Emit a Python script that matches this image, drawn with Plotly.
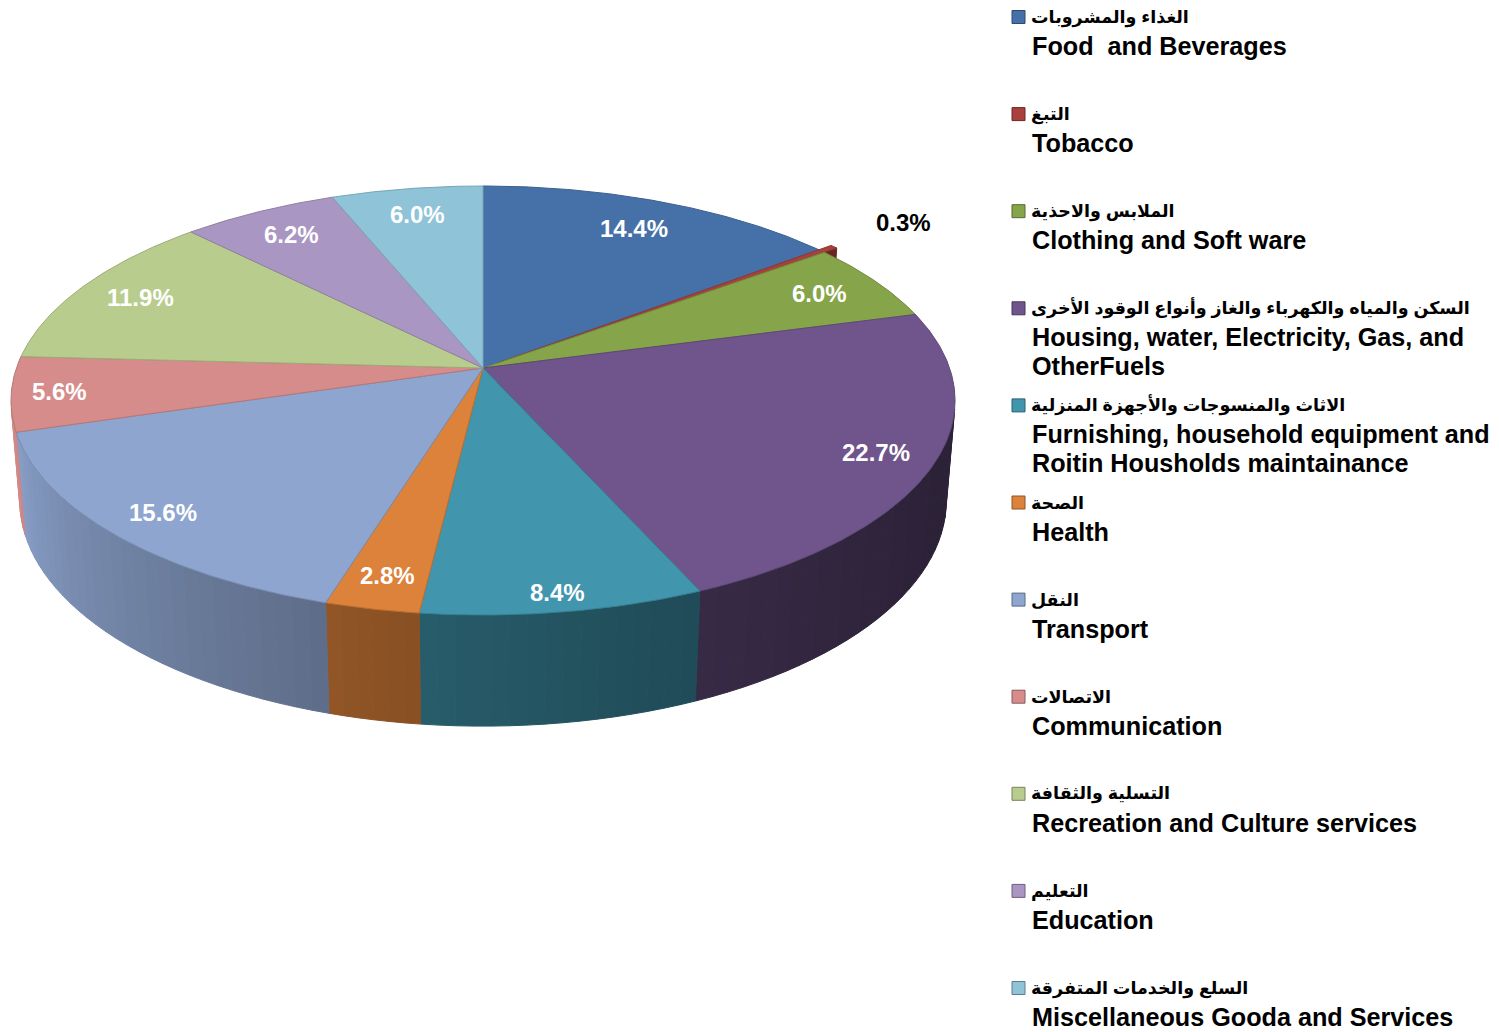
import numpy as np
import plotly.graph_objects as go

# ---------------- data ----------------
categories_ar = [
    "الغذاء والمشروبات",
    "التبغ",
    "الملابس والاحذية",
    "السكن والمياه والكهرباء والغاز وأنواع الوقود الأخرى",
    "الاثاث والمنسوجات والأجهزة المنزلية",
    "الصحة",
    "النقل",
    "الاتصالات",
    "التسلية والثقافة",
    "التعليم",
    "السلع والخدمات المتفرقة",
]
categories_en = [
    "Food  and Beverages",
    "Tobacco",
    "Clothing and Soft ware",
    "Housing, water, Electricity, Gas, and<br>OtherFuels",
    "Furnishing, household equipment and<br>Roitin Housholds maintainance",
    "Health",
    "Transport",
    "Communication",
    "Recreation and Culture services",
    "Education",
    "Miscellaneous Gooda and Services",
]
values = [14.4, 0.3, 6.0, 22.7, 8.4, 2.8, 15.6, 5.6, 11.9, 6.2, 6.0]

# ---------------- style ----------------
colors = ["#4671A8", "#A8403D", "#86A44A", "#6F558C", "#4196AE", "#DC823A",
          "#8EA5CF", "#D58C8A", "#B8CC8E", "#A996C2", "#8FC3D7"]
explode = [0, 0.04, 0, 0, 0, 0, 0, 0, 0, 0, 0]
label_r = [0.82, 1.27, 0.85, 0.88, 0.93, 0.88, 0.88, 0.90, 0.85, 0.84, 0.84]

# projection parameters (pixel space)
CX, CY = 483.0, 368.0
S, C = 0.4492, 0.8934          # sin / cos of the view elevation
L, F = 5.896, 2751.0           # camera distance and focal length (radius = 1)
H = 0.242                      # pie thickness
PAGE_OFF = 8                   # default page body margin


def hex2rgb(h):
    h = h.lstrip("#")
    return np.array([int(h[i:i + 2], 16) for i in (0, 2, 4)], dtype=float)


def shade(hexc, f):
    r = np.clip(hex2rgb(hexc) * f, 0, 255).astype(int)
    return "rgb(%d,%d,%d)" % tuple(r)


def proj(r, th_deg, y=0.0, off=(0.0, 0.0)):
    th = np.deg2rad(np.asarray(th_deg, dtype=float))
    u = r * np.sin(th) + off[0]
    v = r * np.cos(th) + off[1]
    yc = y * C + v * S
    zc = L + v * C - y * S
    return CX + F * u / zc, CY - F * yc / zc


def wall_shade(th):
    return 0.40 + 0.60 * np.clip((th - 110.0) / 150.0, 0, 1) ** 1.5


total = float(sum(values))
bounds = np.concatenate([[0.0], np.cumsum(values)]) / total * 360.0
mids = (bounds[:-1] + bounds[1:]) / 2.0

# visible range of the outer wall
lim = np.rad2deg(np.arccos(-1.0 / (L * C)))
VIS0, VIS1 = lim, 360.0 - lim

fig = go.Figure()

# ---------- outer walls (gradient strips) ----------
for i in range(len(values)):
    a, b = bounds[i], bounds[i + 1]
    off = (explode[i] * np.sin(np.deg2rad(mids[i])), explode[i] * np.cos(np.deg2rad(mids[i])))
    lo, hi = max(a, VIS0), min(b, VIS1)
    if lo >= hi:
        continue
    n = int(np.ceil((hi - lo) / 2.0))
    edges = np.linspace(lo, hi, n + 1)
    for e0, e1 in zip(edges[:-1], edges[1:]):
        th = np.linspace(e0, e1, 6)
        xt, yt = proj(1.0, th, 0.0, off)
        xb, yb = proj(1.0, th[::-1], -H, off)
        col = shade(colors[i], wall_shade((e0 + e1) / 2))
        fig.add_trace(go.Scatter(
            x=np.concatenate([xt, xb, xt[:1]]), y=np.concatenate([yt, yb, yt[:1]]),
            mode="lines", fill="toself", fillcolor=col,
            line=dict(color=col, width=1), hoverinfo="skip", showlegend=False))

# ---------- radial faces of exploded slices ----------
cam = np.array([0.0, L * S, -L * C])  # (u, y, v)
for i in range(len(values)):
    if explode[i] == 0:
        continue
    off = (explode[i] * np.sin(np.deg2rad(mids[i])), explode[i] * np.cos(np.deg2rad(mids[i])))
    for ang, sgn in ((bounds[i], -1), (bounds[i + 1], 1)):
        t = np.deg2rad(ang)
        nrm = np.array([sgn * np.cos(t), 0.0, -sgn * np.sin(t)])
        p = np.array([0.5 * np.sin(t) + off[0], -H / 2, 0.5 * np.cos(t) + off[1]])
        if np.dot(cam - p, nrm) <= 0:
            continue
        x1, y1 = proj(0.0, ang, 0.0, off)
        x2, y2 = proj(1.0, ang, 0.0, off)
        x3, y3 = proj(1.0, ang, -H, off)
        x4, y4 = proj(0.0, ang, -H, off)
        col = shade(colors[i], 0.62)
        fig.add_trace(go.Scatter(
            x=[x1, x2, x3, x4, x1], y=[y1, y2, y3, y4, y1],
            mode="lines", fill="toself", fillcolor=col,
            line=dict(color=col, width=1), hoverinfo="skip", showlegend=False))

# ---------- top faces ----------
for i in range(len(values)):
    a, b = bounds[i], bounds[i + 1]
    off = (explode[i] * np.sin(np.deg2rad(mids[i])), explode[i] * np.cos(np.deg2rad(mids[i])))
    th = np.linspace(a, b, max(3, int((b - a) / 0.5) + 2))
    xa, ya = proj(1.0, th, 0.0, off)
    x0, y0 = proj(0.0, 0.0, 0.0, off)
    fig.add_trace(go.Scatter(
        x=np.concatenate([[x0], xa, [x0]]), y=np.concatenate([[y0], ya, [y0]]),
        mode="lines", fill="toself", fillcolor=colors[i],
        line=dict(color=shade(colors[i], 0.85), width=1),
        name=categories_en[i].replace("<br>", " "),
        hovertext="%s: %.1f%%" % (categories_en[i].replace("<br>", " "), values[i]),
        hoverinfo="text", showlegend=False))

# ---------- percentage labels ----------
for i in range(len(values)):
    lx, ly = proj(label_r[i], mids[i], 0.0)
    fig.add_annotation(
        x=float(lx), y=float(ly), xref="x", yref="y", showarrow=False,
        text="<b>%.1f%%</b>" % values[i],
        font=dict(family="Liberation Sans, Arial, sans-serif", size=24,
                  color="white" if label_r[i] < 1 else "black"),
        xanchor="center", yanchor="middle")

# ---------- legend ----------
LX, LY0, LSTEP, LLINE = 1012, 17.0, 97.1, 29.0
for i in range(len(values)):
    yc = LY0 + LSTEP * i
    fig.add_shape(type="rect", xref="x", yref="y",
                  x0=LX, x1=LX + 13, y0=yc - 6.5, y1=yc + 6.5,
                  fillcolor=colors[i], line=dict(color=shade(colors[i], 0.65), width=1))
    fig.add_annotation(
        x=LX + 17, y=yc, xref="x", yref="y", showarrow=False,
        text="<b>%s</b>" % categories_ar[i],
        font=dict(family="Liberation Sans, DejaVu Sans, sans-serif", size=17.5, color="black"),
        xanchor="left", yanchor="middle")
    for k, line in enumerate(categories_en[i].split("<br>")):
        fig.add_annotation(
            x=LX + 18, y=yc + LLINE * (k + 1), xref="x", yref="y", showarrow=False,
            text="<b>%s</b>" % line.replace("  ", "&nbsp; "),
            font=dict(family="Liberation Sans, Arial, sans-serif", size=25.2, color="black"),
            xanchor="left", yanchor="middle")

W, Hh = 1499, 1032
fig.update_layout(
    width=W - PAGE_OFF, height=Hh - PAGE_OFF, autosize=False,
    margin=dict(l=0, r=0, t=0, b=0),
    paper_bgcolor="white", plot_bgcolor="white",
    showlegend=False,
    xaxis=dict(range=[PAGE_OFF, W], visible=False, fixedrange=True),
    yaxis=dict(range=[Hh, PAGE_OFF], visible=False, fixedrange=True),
)

fig.write_html("out.html")
